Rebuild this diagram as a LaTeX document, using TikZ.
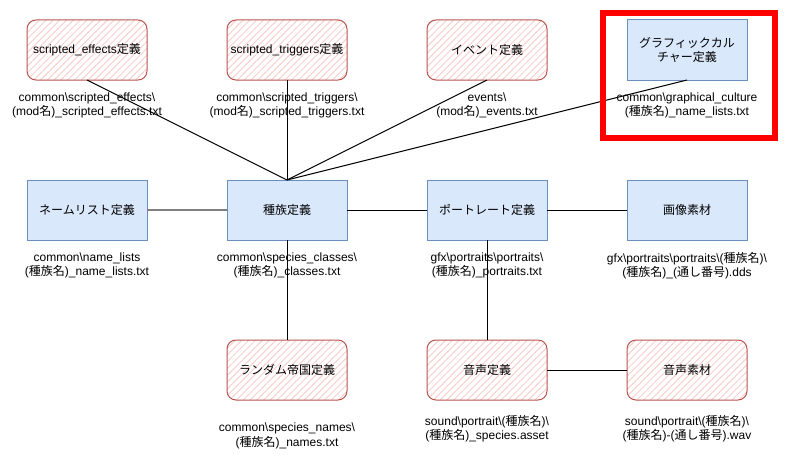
\documentclass[tikz,border=0pt]{standalone}
\usepackage{fontspec}
\setmainfont{Liberation Sans}
\newfontfamily\jafont{Noto Sans CJK JP}
\newcommand{\ja}[1]{{\jafont #1}}
\newcommand{\bsl}{\textbackslash}
\usetikzlibrary{positioning}
\usetikzlibrary{patterns.meta}

\definecolor{boxblue}{RGB}{218,232,252}
\definecolor{edgeblue}{RGB}{108,142,191}
\definecolor{hatchred}{RGB}{248,208,206}
\definecolor{edgered}{RGB}{184,84,80}

\begin{document}
\begin{tikzpicture}
		[x=1pt, y=-1pt, line width=1pt,
		 font=\fontsize{12}{14.5}\selectfont,
		 node distance=100pt and 80pt,
		 bluebox/.style={rectangle, draw=edgeblue, fill=boxblue, minimum width=120pt, minimum height=60pt, align=center, outer sep=0pt},
		 sketchbox/.style={rectangle, rounded corners=9pt, draw=edgered, pattern={Lines[angle=45,distance=4.8pt,line width=1pt]}, pattern color=hatchred, minimum width=120pt, minimum height=60pt, align=center, outer sep=0pt},
		 filename/.style={align=center, inner sep=0pt}]
		\useasboundingbox (0,0) rectangle (800,460);
		\node[bluebox] (species) at (287,210) {\ja{種族定義}};
		\node[bluebox, left=of species] (names) {\ja{ネームリスト定義}};
		\node[bluebox, right=of species] (portrait) {\ja{ポートレート定義}};
		\node[bluebox, right=of portrait] (image) {\ja{画像素材}};
		\node[sketchbox, above=of species] (triggers) {scripted\_triggers\ja{定義}};
		\node[sketchbox, left=of triggers] (effects) {scripted\_effects\ja{定義}};
		\node[sketchbox, right=of triggers] (events) {\ja{イベント定義}};
		\node[bluebox, right=of events] (graphic) {\ja{グラフィックカル}\\\ja{チャー定義}};
		\node[sketchbox, below=of species] (random) {\ja{ランダム帝国定義}};
		\node[sketchbox, below=of portrait] (voice) {\ja{音声定義}};
		\node[sketchbox, right=of voice] (sound) {\ja{音声素材}};

		\draw (species.north) -- (effects.south);
		\draw (species.north) -- (triggers.south);
		\draw (species.north) -- (events.south);
		\draw (species.north) -- (graphic.south);
		\draw[gray, line width=2pt] (names) -- (species);
		\draw (species) -- (portrait);
		\draw (portrait) -- (image);
		\draw (species) -- (random);
		\draw (portrait) -- (voice);
		\draw (voice) -- (sound);

		\node[filename] (effectsfile) at ([yshift=-25.5pt]effects.south) {common\bsl scripted\_effects\bsl\\(mod\ja{名})\_scripted\_effects.txt};
		\node[filename] (triggersfile) at ([yshift=-25.5pt]triggers.south) {common\bsl scripted\_triggers\bsl\\(mod\ja{名})\_scripted\_triggers.txt};
		\node[filename] (eventsfile) at ([yshift=-25.5pt]events.south) {events\bsl\\(mod\ja{名})\_events.txt};
		\node[filename] (graphicfile) at ([yshift=-25.5pt]graphic.south) {common\bsl graphical\_culture\\(\ja{種族名})\_name\_lists.txt};
		\node[filename] (namesfile) at ([yshift=-25.5pt]names.south) {common\bsl name\_lists\\(\ja{種族名})\_name\_lists.txt};
		\node[filename] (speciesfile) at ([yshift=-25.5pt]species.south) {common\bsl species\_classes\bsl\\(\ja{種族名})\_classes.txt};
		\node[filename] (portraitfile) at ([yshift=-25.5pt]portrait.south) {gfx\bsl portraits\bsl portraits\bsl\\(\ja{種族名})\_portraits.txt};
		\node[filename] (imagefile) at ([yshift=-25.5pt]image.south) {gfx\bsl portraits\bsl portraits\bsl(\ja{種族名})\bsl\\(\ja{種族名})\_(\ja{通し番号}).dds};
		\node[filename] (randomfile) at ([yshift=-36pt]random.south) {common\bsl species\_names\bsl\\(\ja{種族名})\_names.txt};
		\node[filename] (voicefile) at ([yshift=-28.5pt]voice.south) {sound\bsl portrait\bsl(\ja{種族名})\bsl\\(\ja{種族名})\_species.asset};
		\node[filename] (soundfile) at ([yshift=-28.5pt]sound.south) {sound\bsl portrait\bsl(\ja{種族名})\bsl\\(\ja{種族名})-(\ja{通し番号}).wav};

		\draw[red, line width=6pt] (603,13) rectangle (775,138);
	\end{tikzpicture}
\end{document}
